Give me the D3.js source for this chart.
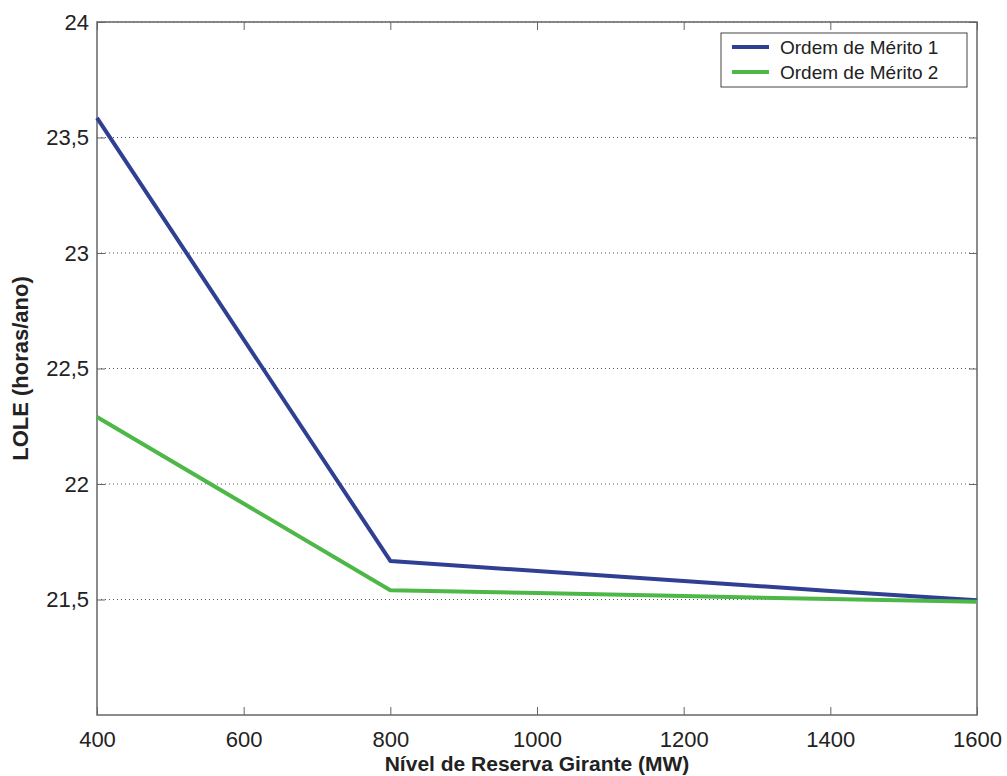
<!DOCTYPE html>
<html><head><meta charset="utf-8">
<script src="https://cdn.jsdelivr.net/npm/d3@7"></script>
<style>body{margin:0;background:#fff}svg{display:block}text{font-family:"Liberation Sans",Arial,sans-serif;fill:#222}</style>
</head><body><svg id="c" width="1007" height="776"></svg>
<script>
const xValues = [400, 800, 1000, 1200, 1400, 1600];
const serie1 = [23.585, 21.667, 21.623, 21.58, 21.537, 21.497];
const serie2 = [22.29, 21.54, 21.528, 21.515, 21.502, 21.49];
const seriesNames = ["Ordem de Mérito 1", "Ordem de Mérito 2"];
const xTicks = [400, 600, 800, 1000, 1200, 1400, 1600];
const yTicks = [21.5, 22, 22.5, 23, 23.5, 24];
const yTickLabels = ["21,5", "22", "22,5", "23", "23,5", "24"];

const svg = d3.select("#c");
const m = {l:97, r:977, t:22, b:715};
const x = d3.scaleLinear().domain([400,1600]).range([m.l,m.r]);
const y = d3.scaleLinear().domain([21,24]).range([m.b,m.t]);
const axisCol = "#666";

// grid
svg.append("g").selectAll("line").data(yTicks).join("line")
  .attr("x1",m.l).attr("x2",m.r).attr("y1",d=>y(d)).attr("y2",d=>y(d))
  .attr("stroke","#555").attr("stroke-width",1).attr("stroke-dasharray","1,3");

function styleAxis(g){ g.select(".domain").remove(); g.selectAll(".tick line").attr("stroke",axisCol); g.selectAll("text").attr("font-size",22).attr("fill","#222"); }
svg.append("g").attr("transform",`translate(0,${m.b})`)
  .call(d3.axisBottom(x).tickValues(xTicks).tickSize(-8).tickPadding(16).tickFormat(d3.format("d"))).call(styleAxis);
svg.append("g").attr("transform",`translate(0,${m.t})`)
  .call(d3.axisTop(x).tickValues(xTicks).tickSize(-8).tickFormat("")).call(styleAxis);
svg.append("g").attr("transform",`translate(${m.l},0)`)
  .call(d3.axisLeft(y).tickValues(yTicks).tickSize(-8).tickPadding(8).tickFormat((d,i)=>yTickLabels[i])).call(styleAxis);
svg.append("g").attr("transform",`translate(${m.r},0)`)
  .call(d3.axisRight(y).tickValues(yTicks).tickSize(-8).tickFormat("")).call(styleAxis);

svg.append("rect").attr("x",m.l).attr("y",m.t).attr("width",m.r-m.l).attr("height",m.b-m.t)
  .attr("fill","none").attr("stroke",axisCol).attr("stroke-width",1.5);

const line = d3.line().x((d,i)=>x(xValues[i])).y(d=>y(d));
const colors = ["#2f3f92", "#4db847"];
[serie1, serie2].forEach((s,k)=>{
  svg.append("path").datum(s).attr("d",line).attr("fill","none")
    .attr("stroke",colors[k]).attr("stroke-width",4).attr("stroke-linejoin","round");
});

// legend
const lg = svg.append("g");
lg.append("rect").attr("x",721).attr("y",33).attr("width",246).attr("height",54)
  .attr("fill","#fff").attr("stroke","#444").attr("stroke-width",1);
seriesNames.forEach((n,k)=>{
  const yy = 47 + k*25;
  lg.append("line").attr("x1",732).attr("x2",769).attr("y1",yy).attr("y2",yy)
    .attr("stroke",colors[k]).attr("stroke-width",4);
  lg.append("text").attr("x",780).attr("y",yy+7).attr("font-size",19).text(n);
});

svg.append("text").attr("x",(m.l+m.r)/2).attr("y",771).attr("text-anchor","middle")
  .attr("font-size",21).attr("font-weight","bold").text("Nível de Reserva Girante (MW)");
svg.append("text").attr("transform",`translate(28,${(m.t+m.b)/2}) rotate(-90)`).attr("text-anchor","middle")
  .attr("font-size",22).attr("font-weight","bold").text("LOLE (horas/ano)");
</script></body></html>
